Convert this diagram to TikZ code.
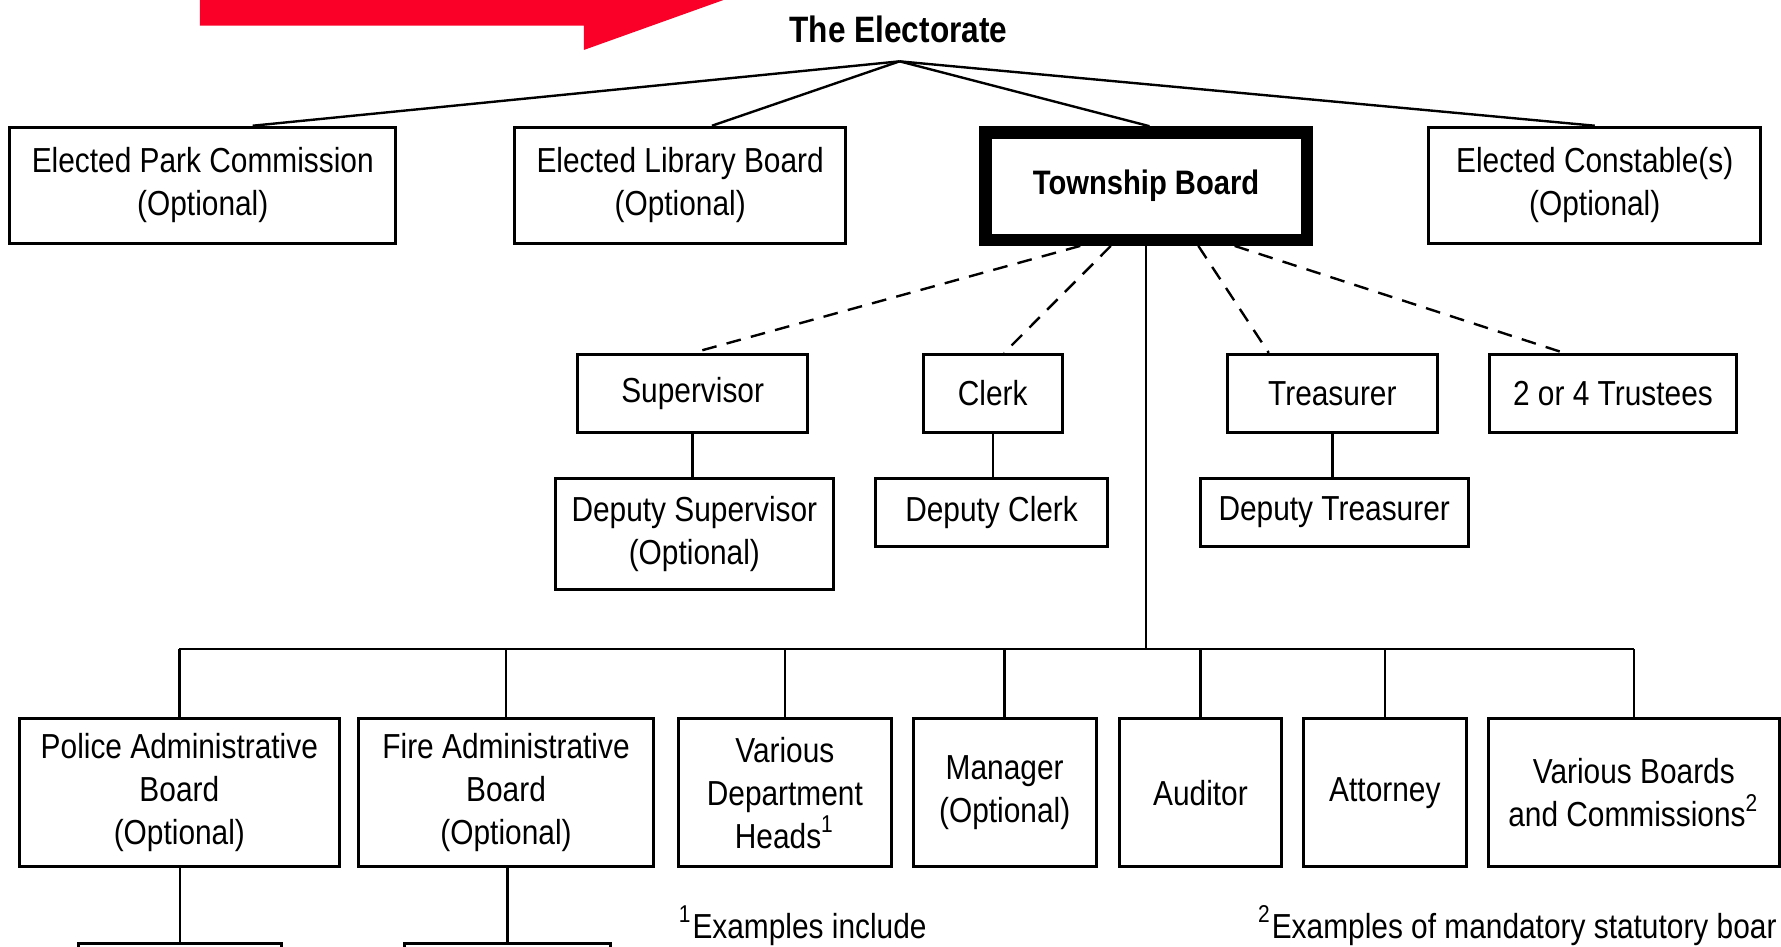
\documentclass[tikz,border=0pt]{standalone}
\usepackage{fontspec}
\setmainfont{Liberation Sans}[FakeStretch=0.86]
\definecolor{banner}{RGB}{250,0,40}
\tikzstyle{chart}=[x=1cm, y=1cm, font=\fontsize{8.7}{10.8}\selectfont]
\tikzstyle{box}=[draw, line width=0.75pt, inner sep=0pt, align=center]
\tikzstyle{main}=[draw, line width=3.1pt, inner sep=0pt, align=center, font=\fontsize{8.5}{10.8}\selectfont\bfseries]
\tikzstyle{head}=[inner sep=0pt, font=\fontsize{9.2}{11}\selectfont\bfseries]
\tikzstyle{fn}=[inner sep=0pt, anchor=base west]
\tikzstyle{tie}=[-, line width=0.6pt]
\tikzstyle{appt}=[-, line width=0.6pt, dash pattern=on 3.7pt off 2.6pt]
\newcommand{\rowA}{6.70}
\newcommand{\rowB}{4.865}
\newcommand{\rowC}{1.351}
\newcommand{\busY}{2.614}

\begin{document}
\begin{tikzpicture}[chart]
	\path[use as bounding box, clip] (0,0) rectangle (15.68,8.33);
	\fill[banner] (1.76,8.41) -- (1.76,8.105) -- (5.14,8.105) -- (5.14,7.89) -- (6.593,8.41) -- cycle;
	%%
	\draw (7.91,8.07) node[head] (voters) {The Electorate};
	\coordinate (apex) at (7.92,7.79);
	%%%%%%
	\draw (1.785,\rowA) node[box, minimum width=3.40cm, minimum height=1.02cm] (park) {Elected Park Commission\\(Optional)};
	\draw (5.988,\rowA) node[box, minimum width=2.91cm, minimum height=1.02cm] (lib) {Elected Library Board\\(Optional)};
	\draw (10.09,6.692) node[main, minimum width=2.83cm, minimum height=0.945cm] (town) {Township Board};
	\draw (14.04,\rowA) node[box, minimum width=2.92cm, minimum height=1.02cm] (const) {Elected Constable(s)\\(Optional)};
	%%
	\draw[tie] (apex) -- ([xshift=4.4mm]park.north);
	\draw[tie] (apex) -- ([xshift=2.8mm]lib.north);
	\draw[tie] (apex) -- ([xshift=0.3mm]town.north);
	\draw[tie] (apex) -- (const.north);
	%%%%%%
	\draw (6.098,\rowB) node[box, minimum width=2.02cm, minimum height=0.69cm] (sup) {Supervisor};
	\draw (8.74,\rowB) node[box, minimum width=1.22cm, minimum height=0.69cm] (clerk) {Clerk};
	\draw (11.73,\rowB) node[box, minimum width=1.855cm, minimum height=0.69cm] (treas) {Treasurer};
	\draw (14.2,\rowB) node[box, minimum width=2.175cm, minimum height=0.69cm] (trust) {2 or 4 Trustees};
	%%
	\draw[appt] ([xshift=-5.8mm]town.south) -- (sup.north);
	\draw[appt] ([xshift=-3.1mm]town.south) -- ([xshift=1mm]clerk.north);
	\draw[appt] ([xshift=4.6mm]town.south) -- ([xshift=-5.6mm]treas.north);
	\draw[appt] ([xshift=7.8mm]town.south) -- ([xshift=-4.3mm]trust.north);
	%%
	\draw (6.113,3.632) node[box, minimum width=2.446cm, minimum height=0.976cm] (dsup) {Deputy Supervisor\\(Optional)};
	\draw (8.73,3.82) node[box, minimum width=2.04cm, minimum height=0.60cm] (dclerk) {Deputy Clerk};
	\draw (11.746,3.82) node[box, minimum width=2.36cm, minimum height=0.60cm] (dtreas) {Deputy Treasurer};
	%%
	\draw[tie] (sup.south) -- (sup.south |- dsup.north);
	\draw[tie] (clerk.south) -- (clerk.south |- dclerk.north);
	\draw[tie] (treas.south) -- (treas.south |- dtreas.north);
	%%%%%%
	\coordinate (bus) at (0,\busY);
	\draw (1.579,\rowC) node[box, minimum width=2.823cm, minimum height=1.303cm] (police) {Police Administrative\\Board\\(Optional)};
	\draw (4.455,\rowC) node[box, minimum width=2.59cm, minimum height=1.303cm] (fire) {Fire Administrative\\Board\\(Optional)};
	\draw (6.91,\rowC) node[box, minimum width=1.88cm, minimum height=1.303cm] (depts) {Various\\Department\\Heads\textsuperscript{1}};
	\draw (8.845,\rowC) node[box, minimum width=1.61cm, minimum height=1.303cm] (manager) {Manager\\(Optional)};
	\draw (10.569,\rowC) node[box, minimum width=1.423cm, minimum height=1.303cm] (auditor) {Auditor};
	\draw (12.192,\rowC) node[box, minimum width=1.43cm, minimum height=1.303cm] (attorney) {Attorney};
	\draw (14.384,\rowC) node[box, minimum width=2.567cm, minimum height=1.303cm] (boards) {Various Boards\\and Commissions\textsuperscript{2}};
	%%
	\draw[tie] (town.south) -- (town.south |- bus);
	\draw[tie] (police.north |- bus) -- (boards.north |- bus);
	\draw[tie] (police.north |- bus) -- (police.north);
	\draw[tie] (fire.north |- bus) -- (fire.north);
	\draw[tie] (depts.north |- bus) -- (depts.north);
	\draw[tie] (manager.north |- bus) -- (manager.north);
	\draw[tie] (auditor.north |- bus) -- (auditor.north);
	\draw[tie] (attorney.north |- bus) -- (attorney.north);
	\draw[tie] (boards.north |- bus) -- (boards.north);
	%%
	\draw (1.584,0.04) node[box, anchor=north, minimum width=1.79cm, minimum height=1cm] (police2) {};
	\draw (4.467,0.04) node[box, anchor=north, minimum width=1.82cm, minimum height=1cm] (fire2) {};
	\draw[tie] (police2.north |- police.south) -- (police2.north);
	\draw[tie] (fire2.north |- fire.south) -- (fire2.north);
	%%%%%%
	\draw (5.97,0.07) node[fn] (note1) {\textsuperscript{1}Examples include};
	\draw (11.07,0.07) node[fn] (note2) {\textsuperscript{2}Examples of mandatory statutory boar};
\end{tikzpicture}
\end{document}
